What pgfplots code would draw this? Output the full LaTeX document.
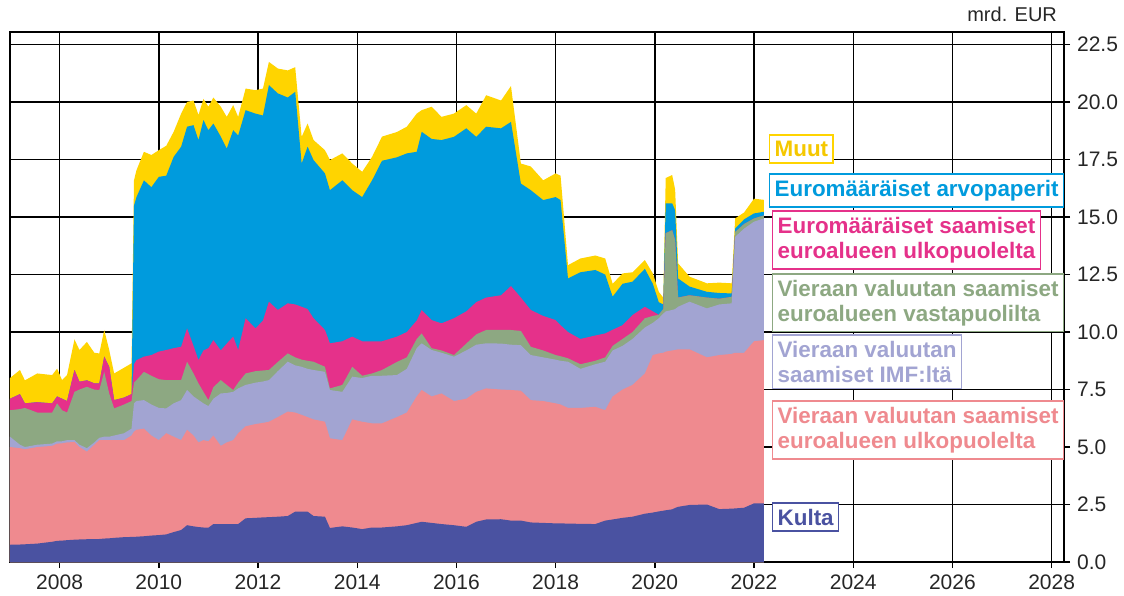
\documentclass[border=0pt]{standalone}
\usepackage{fontspec}
\setmainfont{Liberation Sans}
\usepackage{pgfplots}
\usepackage{pgfplotstable}
\pgfplotsset{compat=1.18}

\definecolor{cK}{RGB}{74,82,161}
\definecolor{cP}{RGB}{239,138,143}
\definecolor{cL}{RGB}{162,164,210}
\definecolor{cG}{RGB}{141,168,130}
\definecolor{cM}{RGB}{229,49,138}
\definecolor{cB}{RGB}{0,155,221}
\definecolor{cY}{RGB}{255,212,0}
\definecolor{txtY}{RGB}{245,200,0}

% cumulative tops of the stacked areas, mrd. EUR
% K = Kulta, P = vieraan val. euroalueen ulkop., L = IMF, G = vastapuolilta,
% M = euromaar. saamiset ulkop., B = arvopaperit, Y = muut
\pgfplotstableread{
t K P L G M B Y
2007.00 0.75 5.00 5.45 6.60 7.10 7.10 8.00
2007.20 0.76 4.95 5.10 6.65 7.30 7.30 8.35
2007.30 0.77 4.90 5.00 6.70 6.90 6.90 7.90
2007.55 0.80 5.00 5.10 6.50 6.95 6.95 8.20
2007.85 0.88 5.05 5.15 6.50 6.90 6.90 8.13
2007.95 0.92 5.15 5.25 6.90 7.20 7.20 8.41
2008.05 0.93 5.16 5.25 6.60 7.10 7.10 7.91
2008.15 0.95 5.20 5.30 6.50 7.00 7.00 8.13
2008.30 0.97 5.22 5.30 7.40 8.35 8.35 9.68
2008.40 0.98 5.00 5.10 7.50 7.84 7.84 9.22
2008.55 0.99 4.80 4.95 7.62 7.90 7.90 9.57
2008.70 1.00 5.10 5.20 7.50 7.77 7.77 9.10
2008.80 1.00 5.30 5.40 7.48 7.77 7.77 9.07
2008.90 1.02 5.30 5.45 8.27 8.93 8.93 10.09
2009.00 1.03 5.30 5.45 7.33 8.49 8.49 9.22
2009.10 1.05 5.30 5.50 6.68 7.04 7.04 8.20
2009.30 1.08 5.30 5.60 6.85 7.15 7.15 8.45
2009.45 1.09 5.50 5.80 7.00 7.30 7.30 8.64
2009.50 1.09 5.67 6.90 7.80 8.60 15.50 16.60
2009.55 1.10 5.75 7.00 7.91 8.78 15.87 17.04
2009.70 1.12 5.80 7.04 8.27 8.93 16.60 17.84
2009.85 1.15 5.50 6.85 8.10 9.00 16.30 17.70
2010.00 1.17 5.30 6.70 7.95 9.15 16.75 17.91
2010.15 1.20 5.60 6.68 7.91 9.22 16.80 18.10
2010.30 1.30 5.45 6.90 7.91 9.30 17.62 18.71
2010.45 1.39 5.30 7.04 7.91 9.36 18.06 19.50
2010.57 1.60 5.75 7.48 8.71 10.16 18.93 20.01
2010.70 1.55 5.50 7.20 8.20 9.40 19.00 20.07
2010.80 1.52 5.20 7.05 7.77 8.78 18.35 19.44
2010.90 1.50 5.30 6.90 7.40 9.20 19.22 20.14
2011.00 1.49 5.25 6.78 7.04 9.30 18.78 19.80
2011.10 1.65 5.50 7.10 7.60 9.65 19.07 20.20
2011.25 1.65 5.05 7.33 7.91 9.20 18.50 19.80
2011.37 1.65 5.20 7.35 7.70 9.50 17.98 19.36
2011.50 1.65 5.30 7.40 7.48 9.80 18.78 19.87
2011.60 1.65 5.60 7.55 7.80 9.22 18.55 19.36
2011.75 1.90 5.90 7.70 8.20 10.60 19.65 20.59
2011.95 1.92 6.00 7.80 8.30 10.16 19.50 20.52
2012.10 1.94 6.05 7.85 8.33 10.50 19.42 20.59
2012.22 1.95 6.10 7.91 8.35 11.32 20.74 21.75
2012.40 1.97 6.30 8.30 8.70 10.96 20.38 21.46
2012.60 2.00 6.54 8.71 9.07 11.25 20.20 21.38
2012.75 2.19 6.50 8.55 8.90 11.20 20.45 21.52
2012.88 2.19 6.40 8.49 8.80 11.10 17.33 18.49
2013.00 2.19 6.30 8.40 8.75 11.00 18.06 19.07
2013.12 2.00 6.20 8.35 8.71 10.60 17.48 18.35
2013.35 1.97 6.10 8.27 8.49 10.09 16.90 17.91
2013.45 1.48 5.38 7.48 7.55 9.51 16.17 17.48
2013.70 1.55 5.30 7.40 7.70 9.60 16.60 17.77
2013.90 1.50 6.20 8.06 8.49 9.80 16.17 17.33
2014.10 1.43 6.10 8.00 8.10 9.60 15.87 16.97
2014.30 1.50 6.03 8.10 8.20 9.60 16.60 17.62
2014.50 1.50 6.03 8.10 8.35 9.60 17.45 18.50
2014.80 1.55 6.30 8.13 8.70 9.80 17.60 18.70
2015.00 1.60 6.50 8.40 8.90 10.00 17.77 18.93
2015.20 1.70 7.20 9.30 9.70 10.50 17.84 19.50
2015.30 1.75 7.48 9.51 9.94 10.96 18.71 19.65
2015.50 1.70 7.20 9.22 9.30 10.52 18.40 19.80
2015.70 1.65 7.33 9.10 9.20 10.38 18.35 19.36
2015.95 1.60 7.00 8.93 9.00 10.60 18.49 19.50
2016.20 1.53 7.10 9.20 9.50 10.90 18.86 19.87
2016.40 1.75 7.40 9.45 9.90 11.30 18.49 19.50
2016.60 1.85 7.55 9.51 10.09 11.50 18.93 20.30
2016.90 1.86 7.50 9.50 10.10 11.60 18.86 20.07
2017.10 1.80 7.48 9.45 10.09 12.00 19.14 20.70
2017.30 1.80 7.45 9.43 10.05 11.50 16.46 17.33
2017.50 1.72 7.04 9.00 9.36 10.96 16.17 17.20
2017.75 1.70 7.00 8.90 9.20 10.70 15.74 16.60
2018.00 1.68 6.90 8.80 9.00 10.52 15.87 16.90
2018.10 1.68 6.85 8.75 8.95 10.30 15.74 16.80
2018.25 1.67 6.70 8.71 8.86 10.00 12.33 12.91
2018.50 1.66 6.70 8.40 8.60 9.70 12.60 13.20
2018.80 1.65 6.75 8.60 8.75 9.85 12.70 13.33
2019.00 1.80 6.60 8.71 8.90 9.94 12.50 13.20
2019.15 1.85 7.20 9.20 9.40 10.10 11.54 12.10
2019.35 1.92 7.50 9.40 9.70 10.30 12.10 12.55
2019.55 1.97 7.70 9.70 10.00 10.74 12.19 12.60
2019.80 2.10 8.20 10.20 10.60 11.10 12.75 13.13
2019.96 2.15 9.00 10.40 10.70 10.90 12.10 12.55
2020.08 2.20 9.07 10.60 10.75 10.75 11.30 11.75
2020.17 2.23 9.10 10.80 11.00 11.00 11.20 11.50
2020.22 2.25 9.15 10.90 14.30 14.30 15.60 16.70
2020.35 2.29 9.20 10.96 14.43 14.43 15.60 16.83
2020.41 2.35 9.22 11.00 14.00 14.00 15.30 16.20
2020.47 2.40 9.25 11.10 11.50 11.50 12.33 12.99
2020.70 2.48 9.25 11.32 11.60 11.60 11.98 12.41
2021.05 2.50 8.90 11.03 11.50 11.50 11.75 12.12
2021.30 2.30 9.00 11.20 11.45 11.45 11.70 12.15
2021.55 2.32 9.05 11.25 11.53 11.53 11.68 12.12
2021.62 2.33 9.10 14.14 14.35 14.35 14.50 14.94
2021.80 2.36 9.10 14.50 14.70 14.70 14.90 15.20
2022.00 2.55 9.60 14.80 14.94 14.94 15.16 15.80
2022.20 2.55 9.65 14.94 15.07 15.07 15.23 15.75
}\data

\begin{document}
\begin{tikzpicture}
\path[use as bounding box] (-5pt,-16.5pt) rectangle (557pt,281pt);
\begin{axis}[
    scale only axis,
    width=527pt, height=265pt,
    xmin=2007, xmax=2028.25,
    ymin=0, ymax=23.05,
    xtick={2008,2010,...,2028},
    ytick={0,2.5,...,22.5},
    xticklabel={\pgfmathprintnumber[1000 sep={}]{\tick}},
    yticklabel={\pgfmathprintnumber[fixed,fixed zerofill,precision=1]{\tick}},
    /pgf/number format/assume math mode=true,
    xtick pos=left, ytick pos=right,
    yticklabel pos=right,
    tick align=outside,
    major tick length=3pt,
    tick style={black, line width=0.7pt},
    grid=major,
    grid style={black, line width=0.7pt},
    axis line style={black, line width=0.7pt},
    tick label style={font=\fontsize{10.5}{12}\selectfont, text=black!85},
    clip=false,
]
\addplot[fill=cY, draw=none] table[x=t, y=Y] {\data} \closedcycle;
\addplot[fill=cB, draw=none] table[x=t, y=B] {\data} \closedcycle;
\addplot[fill=cM, draw=none] table[x=t, y=M] {\data} \closedcycle;
\addplot[fill=cG, draw=none] table[x=t, y=G] {\data} \closedcycle;
\addplot[fill=cL, draw=none] table[x=t, y=L] {\data} \closedcycle;
\addplot[fill=cP, draw=none] table[x=t, y=P] {\data} \closedcycle;
\addplot[fill=cK, draw=none] table[x=t, y=K] {\data} \closedcycle;

\tikzset{lbl/.style={anchor=north west, fill=white, line width=0.8pt,
    inner xsep=2.5pt, inner ysep=3pt, align=left,
    font=\fontsize{11.2}{12.5}\selectfont\bfseries}}
\node[lbl, draw=cY, text=txtY] at (axis cs:2022.30,18.6) {Muut};
\node[lbl, draw=cB, text=cB] at (axis cs:2022.30,16.91) {Euromääräiset arvopaperit};
\node[lbl, draw=cM, text=cM] at (axis cs:2022.36,15.3) {Euromääräiset saamiset\\euroalueen ulkopuolelta};
\node[lbl, draw=cG, text=cG] at (axis cs:2022.36,12.57) {Vieraan valuutan saamiset\\euroalueen vastapuolilta};
\node[lbl, draw=cL, text=cL] at (axis cs:2022.36,9.91) {Vieraan valuutan\\saamiset IMF:ltä};
\node[lbl, draw=cP, text=cP] at (axis cs:2022.36,7.04) {Vieraan valuutan saamiset\\euroalueen ulkopuolelta};
\node[lbl, draw=cK, text=cK] at (axis cs:2022.36,2.61) {Kulta};

\node[anchor=base east, font=\fontsize{10}{12}\selectfont, text=black!85]
    at ([yshift=5pt]rel axis cs:1,1) {mrd. EUR};
\end{axis}
\end{tikzpicture}
\end{document}
